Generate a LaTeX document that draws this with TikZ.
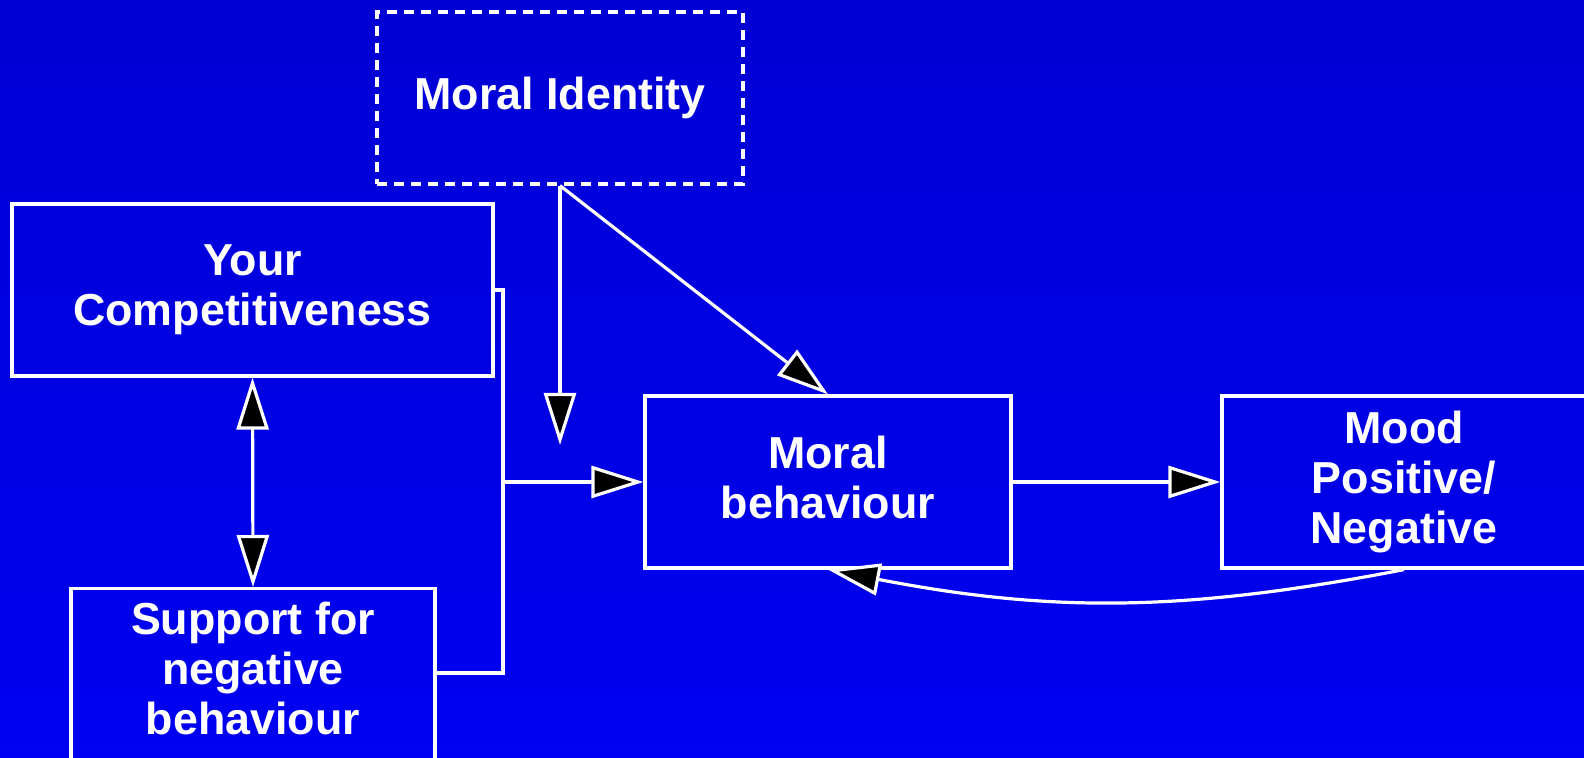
\documentclass[tikz,border=0pt]{standalone}
\usepackage{fontspec}
\setmainfont{Liberation Sans}
\usetikzlibrary{arrows.meta}

\definecolor{bgtop}{RGB}{0,0,212}
\definecolor{bgbot}{RGB}{0,0,242}

\tikzset{
  box/.style={draw=white, line width=1.6pt, rectangle, text=white, align=center,
    font=\fontsize{22.4}{25}\selectfont\bfseries, inner sep=0pt},
  dashbox/.style={box, dash pattern=on 5pt off 3.5pt},
  wire/.style={draw=white, line width=1.6pt},
  arr/.style={wire, -{Triangle[length=26pt,width=16pt,fill=black]}},
  dblarr/.style={wire, {Triangle[length=26pt,width=16pt,fill=black]}-{Triangle[length=26pt,width=16pt,fill=black]}}
}

\begin{document}
\begin{tikzpicture}[x=0.5pt,y=0.5pt,yscale=-1]
\clip (0,0) rectangle (1584,758);
\shade[top color=bgtop, bottom color=bgbot] (0,0) rectangle (1584,758);

% Boxes
\node[dashbox, minimum width=183pt, minimum height=86pt] (ident) at (560,98) {Moral Identity};
\node[box, minimum width=240.5pt, minimum height=86pt] (comp) at (252.5,290) {Your\\Competitiveness};
\node[box, minimum width=182pt, anchor=north, inner ysep=6.5pt, text depth=40pt] (supp) at (253,587) {Support for\\negative\\behaviour};
\node[box, minimum width=183pt, minimum height=86pt] (behav) at (828,482) {Moral\\behaviour\vphantom{g}};
\node[box, minimum width=182pt, minimum height=86pt] (mood) at (1404,482) {Mood\\Positive/\\Negative};

% free ends and joins
\coordinate (identend) at (560,445);
\coordinate (join) at (503,482);
\coordinate (suppout) at (435,673);

% Connectors
\draw[arr] (ident.south) -- (identend);
\draw[arr] (ident.south) -- (behav.north);
\draw[dblarr] (comp.south) -- (supp.north);
\draw[wire] (comp.east) -| (join) |- (suppout);
\draw[arr] (join) -- (behav.west);
\draw[arr] (behav.east) -- (mood.west);
\draw[arr] (mood.south) to[bend right=11] (behav.south);

\end{tikzpicture}
\end{document}
